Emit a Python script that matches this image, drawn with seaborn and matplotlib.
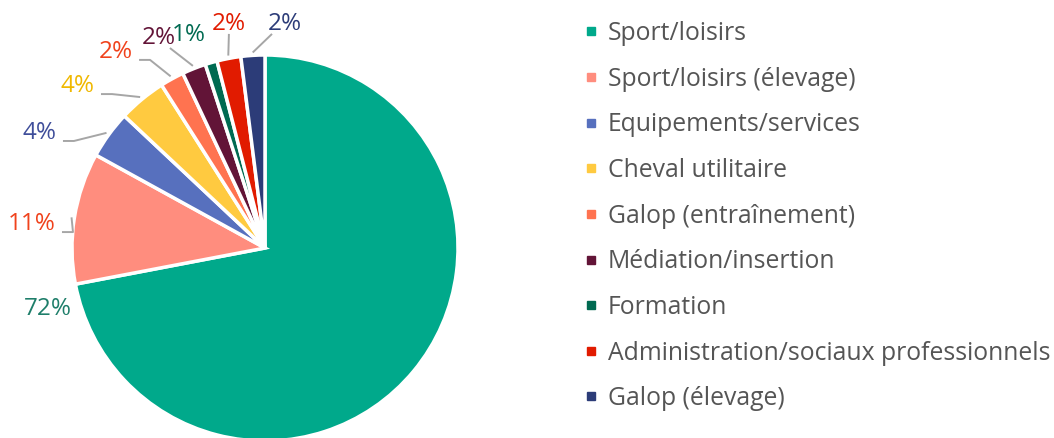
import numpy as np
import matplotlib.pyplot as plt
import seaborn as sns
from matplotlib.lines import Line2D

categories = [
    'Sport/loisirs',
    'Sport/loisirs (élevage)',
    'Equipements/services',
    'Cheval utilitaire',
    'Galop (entraînement)',
    'Médiation/insertion',
    'Formation',
    'Administration/sociaux professionnels',
    'Galop (élevage)',
]
shares = [72, 11, 4, 4, 2, 2, 1, 2, 2]

slice_colors = ['#00A98B', '#FF8D7E', '#5770BE', '#FFCA40', '#FF7350',
                '#621437', '#006A51', '#E11B00', '#2C3C78']
label_colors = ['#1E7E6A', '#F0421C', '#3F4E9A', '#F0B800', '#F0421C',
                '#621437', '#006A51', '#E11B00', '#2C3C78']

# label text positions (pie radius units) and leader style
label_pos = [(-1.127, -0.316), (-1.207, 0.124), (-1.166, 0.596), (-0.969, 0.839),
             (-0.772, 1.016), (-0.550, 1.088), (-0.395, 1.104), (-0.187, 1.161),
             (0.104, 1.161)]
# 'h' = short horizontal tail then line to slice, 'br'/'bc'/'bl' = straight from bottom
leader = [None, 'h', 'h', 'h', 'h', 'br', None, 'bc', 'bl']

sns.set_theme(style='white')
plt.rcParams['font.family'] = ['Open Sans', 'DejaVu Sans']

fig = plt.figure(figsize=(10.54, 4.38), dpi=100)
R = 193
cx, cy = 265, 248
W, H = 1054, 438
x0, x1 = -1.35, 1.35
y0, y1 = -(H - cy) / R, cy / R
ax = fig.add_axes([(cx + x0 * R) / W, 0, (x1 - x0) * R / W, 1])

wedges, _ = ax.pie(
    shares,
    colors=slice_colors,
    startangle=90,
    counterclock=False,
    radius=1,
    wedgeprops=dict(edgecolor='white', linewidth=2.5),
)
ax.set_xlim(x0, x1)
ax.set_ylim(y0, y1)
ax.set_aspect('auto')
ax.axis('off')

texts = []
for i, w in enumerate(wedges):
    t = ax.text(label_pos[i][0], label_pos[i][1], f'{shares[i]}%',
                ha='center', va='center', fontsize=17.5, color=label_colors[i])
    texts.append(t)

fig.canvas.draw()
renderer = fig.canvas.get_renderer()
inv = ax.transData.inverted()
for i, w in enumerate(wedges):
    if leader[i] is None:
        continue
    mid = np.deg2rad((w.theta1 + w.theta2) / 2)
    tip = ax.transData.transform((1.015 * np.cos(mid), 1.015 * np.sin(mid)))
    bb = texts[i].get_window_extent(renderer)
    if leader[i] == 'h':
        a = (bb.x1 + 6, bb.y0 + 4)
        pts = [a, (a[0] + 11, a[1]), tip]
    elif leader[i] == 'br':
        pts = [(bb.x1 - 6, bb.y0 + 2), tip]
    elif leader[i] == 'bc':
        pts = [((bb.x0 + bb.x1) / 2, bb.y0 + 2), tip]
    else:
        pts = [(bb.x0 + 4, bb.y0 + 2), tip]
    d = inv.transform(np.array(pts))
    ax.plot(d[:, 0], d[:, 1], color='#A6A6A6', lw=1.4, solid_capstyle='butt')

handles = [Line2D([0], [0], marker='s', linestyle='', markersize=5.8,
                  markerfacecolor=c, markeredgecolor=c) for c in slice_colors]
fig.legend(handles, categories, loc='upper left',
           bbox_to_anchor=(584 / W, 1 - 21 / H), frameon=False,
           fontsize=17.8, labelcolor='#555555', handlelength=0.6,
           handletextpad=0.37, labelspacing=0.835, borderaxespad=0, borderpad=0)

fig.savefig('out.png', dpi=100)
